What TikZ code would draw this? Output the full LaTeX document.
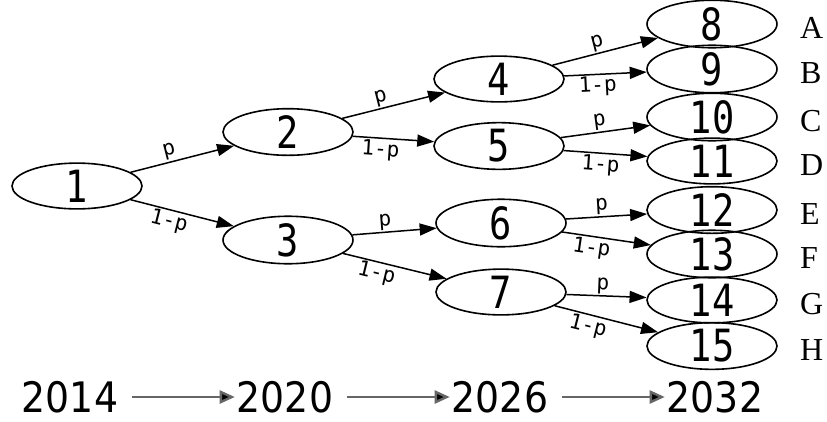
\documentclass[tikz,border=0pt]{standalone}
\usepackage{fontspec}
\setmainfont{Liberation Serif}
\newfontfamily\nodefont{DejaVu Sans Mono}
\newfontfamily\yearfont{DejaVu Sans Condensed}
\usetikzlibrary{shapes.geometric,arrows.meta}
% tall state numbers
\newcommand{\tallnum}[1]{\scalebox{1}[1.2]{#1}}
\begin{document}
\begin{tikzpicture}[x=1pt,y=-1pt,
  state/.style={ellipse,draw,line width=1.6pt,minimum width=130pt,minimum height=37pt,
    inner sep=0pt,font=\nodefont\fontsize{37}{37}\selectfont},
  branch/.style={line width=1.5pt,-{Triangle[length=17pt,width=12pt]}},
  prob/.style={font=\nodefont\fontsize{21}{21}\selectfont,sloped,inner sep=1.5pt},
  outcome/.style={anchor=west,font=\fontsize{32}{32}\selectfont,inner sep=0pt},
  year/.style={font=\yearfont\fontsize{42}{42}\selectfont,inner sep=0pt},
  timeline/.style={line width=2.4pt,draw=black!60,shorten <=14pt,shorten >=2pt,
    -{Triangle[length=15pt,width=13pt,fill=black]}}]
\useasboundingbox (0,0) rectangle (827,421);

% tree states
\node[state] (n1) at (77,186) {\tallnum{1}};
\node[state] (n2) at (288,132) {\tallnum{2}};
\node[state] (n3) at (288,240) {\tallnum{3}};
\node[state] (n4) at (499,79) {\tallnum{4}};
\node[state] (n5) at (499,146) {\tallnum{5}};
\node[state] (n6) at (501,223) {\tallnum{6}};
\node[state] (n7) at (501,292) {\tallnum{7}};
\node[state] (n8) at (712,24) {\tallnum{8}};
\node[state] (n9) at (712,69) {\tallnum{9}};
\node[state] (n10) at (712,117) {\tallnum{10}};
\node[state] (n11) at (712,161) {\tallnum{11}};
\node[state] (n12) at (712,210) {\tallnum{12}};
\node[state] (n13) at (712,254) {\tallnum{13}};
\node[state] (n14) at (712,300) {\tallnum{14}};
\node[state] (n15) at (712,346) {\tallnum{15}};

% outcome letters
\node[outcome] (lA) at (800,28) {A};
\node[outcome] (lB) at (800,73) {B};
\node[outcome] (lC) at (800,121) {C};
\node[outcome] (lD) at (800,165) {D};
\node[outcome] (lE) at (800,214) {E};
\node[outcome] (lF) at (800,258) {F};
\node[outcome] (lG) at (800,304) {G};
\node[outcome] (lH) at (800,350) {H};

% branches
\draw[branch] (n1) -- node[prob,above,pos=0.4] {p} (n2);
\draw[branch] (n1) -- node[prob,below,pos=0.4] {1-p} (n3);
\draw[branch] (n2) -- node[prob,above,pos=0.4] {p} (n4);
\draw[branch] (n2) -- node[prob,below,pos=0.35] {1-p} (n5);
\draw[branch] (n3) -- node[prob,above,pos=0.4] {p} (n6);
\draw[branch] (n3) -- node[prob,below,pos=0.35] {1-p} (n7);
\draw[branch] (n4) -- node[prob,above,pos=0.45] {p} (n8);
\draw[branch] (n4) -- node[prob,below,pos=0.4] {1-p} (n9);
\draw[branch] (n5) -- node[prob,above,pos=0.45] {p} (n10);
\draw[branch] (n5) -- node[prob,below,pos=0.45] {1-p} (n11);
\draw[branch] (n6) -- node[prob,above,pos=0.45] {p} (n12);
\draw[branch] (n6) -- node[prob,below,pos=0.35] {1-p} (n13);
\draw[branch] (n7) -- node[prob,above,pos=0.45] {p} (n14);
\draw[branch] (n7) -- node[prob,below,pos=0.35] {1-p} (n15);

% time axis
\node[year] (y1) at (70,397) {2014};
\node[year] (y2) at (285,397) {2020};
\node[year] (y3) at (500,397) {2026};
\node[year] (y4) at (715,397) {2032};
\draw[timeline] (y1) -- (y2);
\draw[timeline] (y2) -- (y3);
\draw[timeline] (y3) -- (y4);
\end{tikzpicture}
\end{document}
